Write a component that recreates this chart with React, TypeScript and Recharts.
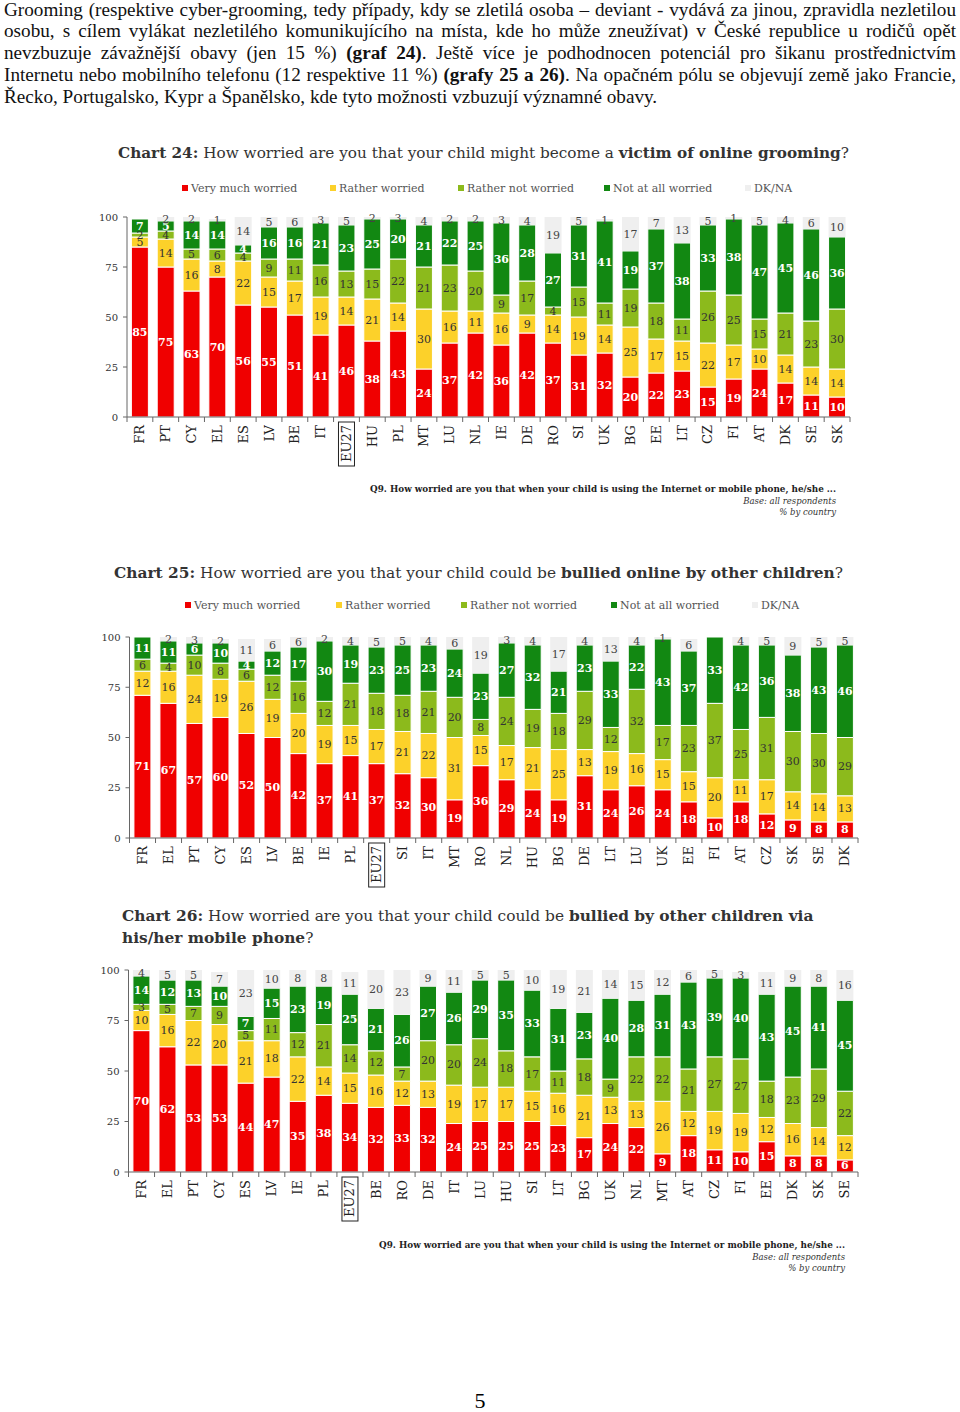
import React from "react";
import { BarChart, Bar, XAxis, YAxis, LabelList } from "recharts";

const redColor = "#f00000";
const yellowColor = "#fcd12a";
const lightGreenColor = "#8cba1c";
const darkGreenColor = "#128812";
const grayColor = "#efefef";
const axisColor = "#666";
const serif = "'DejaVu Serif', serif";

const seriesNames = ["Very much worried", "Rather worried", "Rather not worried", "Not at all worried", "DK/NA"];
const yTicks = [0, 25, 50, 75, 100];

// Chart 24 - victim of online grooming
const countries24 = ["FR", "PT", "CY", "EL", "ES", "LV", "BE", "IT", "EU27", "HU", "PL", "MT", "LU", "NL", "IE", "DE", "RO", "SI", "UK", "BG", "EE", "LT", "CZ", "FI", "AT", "DK", "SE", "SK"];
const veryMuch24 = [85, 75, 63, 70, 56, 55, 51, 41, 46, 38, 43, 24, 37, 42, 36, 42, 37, 31, 32, 20, 22, 23, 15, 19, 24, 17, 11, 10];
const rather24 = [5, 14, 16, 8, 22, 15, 17, 19, 14, 21, 14, 30, 16, 11, 16, 9, 14, 19, 14, 25, 17, 15, 22, 17, 10, 14, 14, 14];
const ratherNot24 = [2, 4, 5, 6, 4, 9, 11, 16, 13, 15, 22, 21, 23, 20, 9, 17, 4, 15, 11, 19, 18, 11, 26, 25, 15, 21, 23, 30];
const notAtAll24 = [7, 5, 14, 14, 4, 16, 16, 21, 23, 25, 20, 21, 22, 25, 36, 28, 27, 31, 41, 19, 37, 38, 33, 38, 47, 45, 46, 36];
const dkna24 = [null, 2, 2, 1, 14, 5, 6, 3, 5, 2, 3, 4, 2, 2, 3, 4, 19, 5, 1, 17, 7, 13, 5, 1, 5, 4, 6, 10];

// Chart 25 - bullied online
const countries25 = ["FR", "EL", "PT", "CY", "ES", "LV", "BE", "IE", "PL", "EU27", "SI", "IT", "MT", "RO", "NL", "HU", "BG", "DE", "LT", "LU", "UK", "EE", "FI", "AT", "CZ", "SK", "SE", "DK"];
const veryMuch25 = [71, 67, 57, 60, 52, 50, 42, 37, 41, 37, 32, 30, 19, 36, 29, 24, 19, 31, 24, 26, 24, 18, 10, 18, 12, 9, 8, 8];
const rather25 = [12, 16, 24, 19, 26, 19, 20, 19, 15, 17, 21, 22, 31, 15, 17, 21, 25, 13, 19, 16, 15, 15, 20, 11, 17, 14, 14, 13];
const ratherNot25 = [6, 4, 10, 8, 6, 12, 16, 12, 21, 18, 18, 21, 20, 8, 24, 19, 18, 29, 12, 32, 17, 23, 37, 25, 31, 30, 30, 29];
const notAtAll25 = [11, 11, 6, 10, 4, 12, 17, 30, 19, 23, 25, 23, 24, 23, 27, 32, 21, 23, 33, 22, 43, 37, 33, 42, 36, 38, 43, 46];
const dkna25 = [0, 2, 3, 2, 11, 6, 6, 2, 4, 5, 5, 4, 6, 19, 3, 4, 17, 4, 13, 4, 1, 6, 0, 4, 5, 9, 5, 5];

// Chart 26 - bullied via mobile phone
const countries26 = ["FR", "EL", "PT", "CY", "ES", "LV", "IE", "PL", "EU27", "BE", "RO", "DE", "IT", "LU", "HU", "SI", "LT", "BG", "UK", "NL", "MT", "AT", "CZ", "FI", "EE", "DK", "SK", "SE"];
const veryMuch26 = [70, 62, 53, 53, 44, 47, 35, 38, 34, 32, 33, 32, 24, 25, 25, 25, 23, 17, 24, 22, 9, 18, 11, 10, 15, 8, 8, 6];
const rather26 = [10, 16, 22, 20, 21, 18, 22, 14, 15, 16, 12, 13, 19, 17, 17, 15, 16, 21, 13, 13, 26, 12, 19, 19, 12, 16, 14, 12];
const ratherNot26 = [3, 5, 7, 9, 5, 11, 12, 21, 14, 12, 7, 20, 20, 24, 18, 17, 11, 18, 9, 22, 22, 21, 27, 27, 18, 23, 29, 22];
const notAtAll26 = [14, 12, 13, 10, 7, 15, 23, 19, 25, 21, 26, 27, 26, 29, 35, 33, 31, 23, 40, 28, 31, 43, 39, 40, 43, 45, 41, 45];
const dkna26 = [4, 5, 5, 7, 23, 10, 8, 8, 11, 20, 23, 9, 11, 5, 5, 10, 19, 21, 14, 15, 12, 6, 5, 3, 11, 9, 8, 16];

function buildRows(countries, a, b, c, d, e) {
  return countries.map((country, i) => ({
    country,
    veryMuch: a[i],
    rather: b[i],
    ratherNot: c[i],
    notAtAll: d[i],
    dkna: e[i]
  }));
}

const rows24 = buildRows(countries24, veryMuch24, rather24, ratherNot24, notAtAll24, dkna24);
const rows25 = buildRows(countries25, veryMuch25, rather25, ratherNot25, notAtAll25, dkna25);
const rows26 = buildRows(countries26, veryMuch26, rather26, ratherNot26, notAtAll26, dkna26);

const makeLabel = (color: string, bold: boolean) => (props: any) => {
  const { x, y, width, height, value } = props;
  if (value === null || value === undefined) return null;
  return (
    <text
      x={x + width / 2}
      y={y + height / 2}
      fill={color}
      textAnchor="middle"
      dominantBaseline="central"
      fontSize={11}
      fontFamily={serif}
      fontWeight={bold ? 700 : 400}
    >
      {value}
    </text>
  );
};

function CountryTick(props: any) {
  const { x, y, payload, index, band, count } = props;
  const isEU = payload.value === "EU27";
  return (
    <g>
      <line x1={x - band / 2} x2={x - band / 2} y1={y} y2={y + 5} stroke={axisColor} />
      {index === count - 1 && (
        <line x1={x + band / 2} x2={x + band / 2} y1={y} y2={y + 5} stroke={axisColor} />
      )}
      {isEU && (
        <rect x={x - 8} y={y + 5} width={16} height={44} fill="none" stroke="#222" strokeWidth={1} />
      )}
      <text
        transform={`translate(${x},${y + 8}) rotate(-90)`}
        textAnchor="end"
        dominantBaseline="central"
        fontSize={13}
        fontFamily={serif}
        fill="#222"
      >
        {payload.value}
      </text>
    </g>
  );
}

function StackChart({ rows, plotLeft, plotRight, plotTop, plotHeight }) {
  const band = (plotRight - plotLeft) / rows.length;
  return (
    <div style={{ position: "absolute", left: 0, top: plotTop - 10 }}>
      <BarChart
        width={960}
        height={10 + plotHeight + 50 + 10}
        data={rows}
        margin={{ top: 10, right: 960 - plotRight, bottom: 10, left: plotLeft - 30 }}
        barCategoryGap="17%"
      >
        <XAxis
          dataKey="country"
          interval={0}
          height={50}
          tickSize={0}
          tickMargin={0}
          tickLine={false}
          axisLine={{ stroke: axisColor }}
          tick={(p: any) => <CountryTick {...p} band={band} count={rows.length} />}
        />
        <YAxis
          width={30}
          domain={[0, 100]}
          ticks={yTicks}
          allowDataOverflow
          tickSize={4}
          tickMargin={5}
          axisLine={{ stroke: axisColor }}
          tickLine={{ stroke: axisColor }}
          tick={{ fontSize: 10, fontFamily: serif, fill: "#333" }}
        />
        <Bar dataKey="veryMuch" stackId="a" fill={redColor} stroke="#fff" strokeWidth={1} isAnimationActive={false}>
          <LabelList dataKey="veryMuch" content={makeLabel("#fff", true)} />
        </Bar>
        <Bar dataKey="rather" stackId="a" fill={yellowColor} stroke="#fff" strokeWidth={1} isAnimationActive={false}>
          <LabelList dataKey="rather" content={makeLabel("#333", false)} />
        </Bar>
        <Bar dataKey="ratherNot" stackId="a" fill={lightGreenColor} stroke="#fff" strokeWidth={1} isAnimationActive={false}>
          <LabelList dataKey="ratherNot" content={makeLabel("#333", false)} />
        </Bar>
        <Bar dataKey="notAtAll" stackId="a" fill={darkGreenColor} stroke="#fff" strokeWidth={1} isAnimationActive={false}>
          <LabelList dataKey="notAtAll" content={makeLabel("#fff", true)} />
        </Bar>
        <Bar dataKey="dkna" stackId="a" fill={grayColor} isAnimationActive={false}>
          <LabelList dataKey="dkna" content={makeLabel("#444", false)} />
        </Bar>
      </BarChart>
    </div>
  );
}

const legendColors = [redColor, yellowColor, lightGreenColor, darkGreenColor, grayColor];

function ChartLegend({ top, positions }) {
  return (
    <>
      {seriesNames.map((name, i) => (
        <div
          key={name}
          style={{
            position: "absolute",
            top,
            left: positions[i],
            fontFamily: serif,
            fontSize: 11,
            color: "#555",
            whiteSpace: "nowrap",
            lineHeight: "14px"
          }}
        >
          <span style={{ display: "inline-block", width: 6, height: 6, background: legendColors[i], marginRight: 3, verticalAlign: 1 }} />
          {name}
        </div>
      ))}
    </>
  );
}

function Footnote({ top, right }) {
  return (
    <div style={{ position: "absolute", top, right: 960 - right, textAlign: "right", fontFamily: serif, color: "#333", lineHeight: "11.5px", whiteSpace: "nowrap" }}>
      <div style={{ fontSize: 8.8, fontWeight: 700, color: "#222" }}>
        Q9. How worried are you that when your child is using the Internet or mobile phone, he/she ...
      </div>
      <div style={{ fontSize: 8.5, fontStyle: "italic" }}>Base: all respondents</div>
      <div style={{ fontSize: 8.5, fontStyle: "italic" }}>% by country</div>
    </div>
  );
}

const titleStyle: React.CSSProperties = {
  position: "absolute",
  fontFamily: serif,
  fontSize: 15.4,
  color: "#333",
  whiteSpace: "nowrap",
  lineHeight: "22px"
};

const paraLine: React.CSSProperties = {
  textAlign: "justify",
  textAlignLast: "justify",
  height: 22
};

export default function App() {
  return (
    <div style={{ position: "absolute", left: 0, top: 0, width: 960, height: 1412, overflow: "hidden", background: "#fff" }}>
      <div
        style={{
          position: "absolute",
          left: 4,
          top: 0,
          width: 952,
          fontFamily: "'Liberation Serif', serif",
          fontSize: 19.2,
          lineHeight: "22px",
          color: "#111"
        }}
      >
        <div style={{ ...paraLine, height: 19.5, lineHeight: "19px" }}>
          Grooming (respektive cyber-grooming, tedy případy, kdy se zletilá osoba – deviant - vydává za jinou, zpravidla nezletilou
        </div>
        <div style={paraLine}>
          osobu, s cílem vylákat nezletilého komunikujícího na místa, kde ho může zneužívat) v České republice u rodičů opět
        </div>
        <div style={paraLine}>
          nevzbuzuje závažnější obavy (jen 15 %) <b>(graf 24)</b>. Ještě více je podhodnocen potenciál pro šikanu prostřednictvím
        </div>
        <div style={paraLine}>
          Internetu nebo mobilního telefonu (12 respektive 11 %) <b>(grafy 25 a 26)</b>. Na opačném pólu se objevují země jako Francie,
        </div>
        <div style={{ height: 22 }}>
          Řecko, Portugalsko, Kypr a Španělsko, kde tyto možnosti vzbuzují významné obavy.
        </div>
      </div>

      {/* Chart 24 */}
      <div style={{ ...titleStyle, left: 118, top: 142, fontSize: 15.25 }}>
        <b>Chart 24:</b> How worried are you that your child might become a <b>victim of online grooming</b>?
      </div>
      <ChartLegend top={182} positions={[182, 330, 458, 604, 745]} />
      <StackChart rows={rows24} plotLeft={127} plotRight={850} plotTop={217} plotHeight={200} />
      <Footnote top={484} right={836} />

      {/* Chart 25 */}
      <div style={{ ...titleStyle, left: 114, top: 562 }}>
        <b>Chart 25:</b> How worried are you that your child could be <b>bullied online by other children</b>?
      </div>
      <ChartLegend top={599} positions={[185, 336, 461, 611, 752]} />
      <StackChart rows={rows25} plotLeft={129.5} plotRight={858} plotTop={637} plotHeight={201} />

      {/* Chart 26 */}
      <div style={{ ...titleStyle, left: 122, top: 905 }}>
        <b>Chart 26:</b> How worried are you that your child could be <b>bullied by other children via</b>
        <br />
        <b>his/her mobile phone</b>?
      </div>
      <StackChart rows={rows26} plotLeft={128.5} plotRight={858} plotTop={970} plotHeight={202} />
      <Footnote top={1240} right={845} />

      <div
        style={{
          position: "absolute",
          left: 0,
          width: 960,
          top: 1392,
          height: 18,
          lineHeight: "18px",
          textAlign: "center",
          fontFamily: "'Liberation Serif', serif",
          fontSize: 22
        }}
      >
        5
      </div>
    </div>
  );
}
